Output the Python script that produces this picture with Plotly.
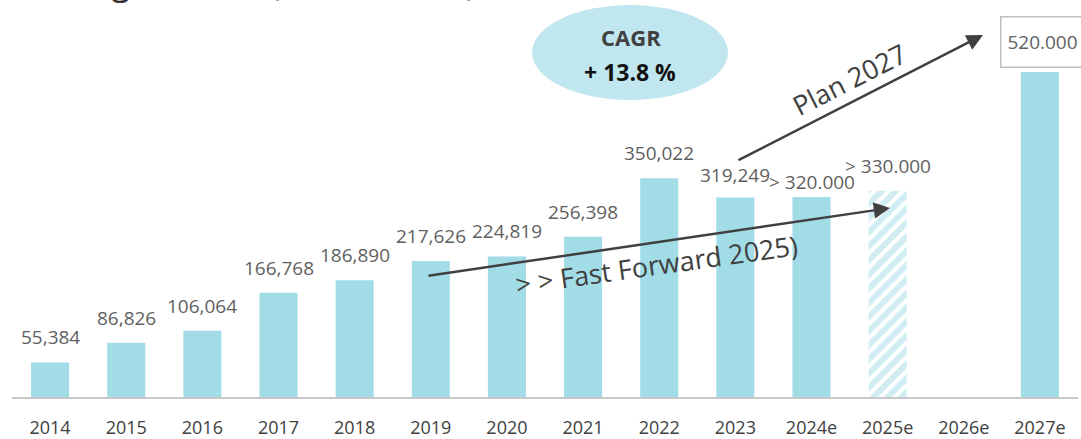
import plotly.graph_objects as go

categories = ["2014", "2015", "2016", "2017", "2018", "2019", "2020", "2021",
              "2022", "2023", "2024e", "2025e", "2026e", "2027e"]
values = [55384, 86826, 106064, 166768, 186890, 217626, 224819, 256398,
          350022, 319249, 320000, 330000, None, 520000]
labels = ["55,384", "86,826", "106,064", "166,768", "186,890", "217,626", "224,819",
          "256,398", "350,022", "319,249", "> 320.000", "> 330.000", "", "520.000"]
hatched = ["2025e"]

BAR = "#a2dce7"
TXT = "#5f5f5f"
DARK = "#404040"
FONT = "Open Sans"

idx = list(range(len(categories)))
solid_x = [i for i, c in zip(idx, categories) if c not in hatched]
solid_y = [v for c, v in zip(categories, values) if c not in hatched]
hatch_x = [i for i, c in zip(idx, categories) if c in hatched]
hatch_y = [v for c, v in zip(categories, values) if c in hatched]

fig = go.Figure()
fig.add_trace(go.Bar(x=solid_x, y=solid_y, marker=dict(color=BAR, line=dict(width=0)),
                     hoverinfo="skip"))
fig.add_trace(go.Bar(x=hatch_x, y=hatch_y,
                     marker=dict(color="white", line=dict(width=0),
                                 pattern=dict(shape="/", fgcolor=BAR, bgcolor="white",
                                              size=10, solidity=0.6)),
                     hoverinfo="skip"))

# value labels
yshift_map = {"2023": 7, "2024e": 0}
for i, c, v, lab in zip(idx, categories, values, labels):
    if v is None or not lab:
        continue
    if c == "2027e":
        fig.add_annotation(x=i, y=v, text=lab, showarrow=False, xanchor="center",
                           yanchor="bottom", yshift=4, xshift=3, width=80, height=47,
                           borderpad=1, bordercolor="#bfbfbf", borderwidth=1.5,
                           bgcolor="white", font=dict(family=FONT, size=19, color=TXT))
    else:
        fig.add_annotation(x=i, y=v, text=lab, showarrow=False, xanchor="center",
                           yanchor="bottom", yshift=yshift_map.get(c, 10),
                           font=dict(family=FONT, size=19, color=TXT))

# partially visible title at top
fig.add_annotation(xref="paper", yref="paper", x=0.0, y=1, xanchor="left", yanchor="bottom",
                   xshift=-18, yshift=-7, text="Leistung Gesamt (in Tsd. Euro)",
                   showarrow=False, font=dict(family=FONT, size=34, color="#333333"))

# CAGR ellipse
L, R, H = 12, 1078, 397
def px(x):
    return (x - L) / (R - L)
def py(y):
    return 1 - y / H

fig.add_shape(type="circle", xref="paper", yref="paper",
              x0=px(532), x1=px(728), y0=py(100), y1=py(5),
              fillcolor="#c0e6ef", line=dict(width=0), layer="below")
fig.add_annotation(xref="paper", yref="paper", x=px(631), y=py(37), text="<b>CAGR</b>",
                   xanchor="center", yanchor="middle",
                   showarrow=False, font=dict(family=FONT, size=22, color=DARK))
fig.add_annotation(xref="paper", yref="paper", x=px(630), y=py(72), text="<b>+ 13.8 %</b>",
                   xanchor="center", yanchor="middle",
                   showarrow=False, font=dict(family=FONT, size=23, color="#111111"))

# arrows
fig.add_annotation(xref="paper", yref="paper", x=px(983), y=py(35), ax=737 - 983, ay=161 - 35,
                   text="", showarrow=True, arrowhead=2, arrowsize=1.3, arrowwidth=2.5,
                   arrowcolor=DARK, standoff=0, startstandoff=0)
fig.add_annotation(xref="paper", yref="paper", x=px(890), y=py(208), ax=427 - 890, ay=276 - 208,
                   text="", showarrow=True, arrowhead=2, arrowsize=1.3, arrowwidth=2.5,
                   arrowcolor=DARK, standoff=0, startstandoff=0)

fig.add_annotation(xref="paper", yref="paper", x=px(849), y=py(80), text="Plan 2027",
                   xanchor="center", yanchor="middle", textangle=-27, showarrow=False,
                   font=dict(family=FONT, size=27, color=DARK))
fig.add_annotation(xref="paper", yref="paper", x=px(656), y=py(264),
                   xanchor="center", yanchor="middle",
                   text="> > Fast Forward 2025)", textangle=-8, showarrow=False,
                   font=dict(family=FONT, size=27, color=DARK))

fig.update_layout(
    width=1081, height=439,
    margin=dict(l=L, r=1081 - R, t=0, b=439 - H, autoexpand=False),
    paper_bgcolor="white", plot_bgcolor="white",
    showlegend=False, barmode="overlay", bargap=0.5,
    font=dict(family=FONT, color=DARK),
    xaxis=dict(tickmode="array", tickvals=idx, ticktext=categories,
               range=[-0.5, len(categories) - 0.5], autorange=False, automargin=False,
               showline=True, linecolor="#c8c8c8", linewidth=2, zeroline=False,
               ticks="", showgrid=False, tickangle=0, ticklabelstandoff=13,
               tickfont=dict(family=FONT, size=18, color=DARK),
               fixedrange=True),
    yaxis=dict(range=[0, 635200], autorange=False, visible=False, showgrid=False,
               automargin=False, fixedrange=True),
)

fig.write_html("out.html", config={"displayModeBar": False},
               post_script="document.body.style.margin='0';document.body.style.overflow='hidden';")
